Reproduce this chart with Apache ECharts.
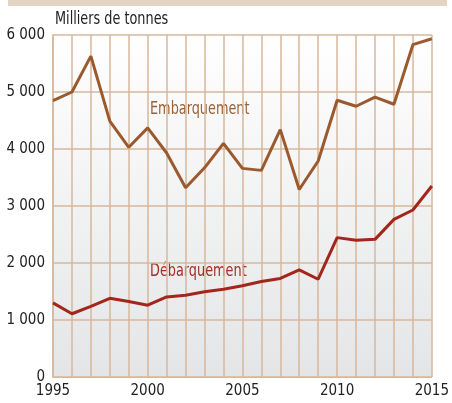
<!DOCTYPE html>
<html>
<head>
<meta charset="utf-8">
<script src="https://cdn.jsdelivr.net/npm/echarts@6/dist/echarts.min.js"></script>
<style>
  html, body { margin: 0; padding: 0; background: #fff; }
  #chart { width: 452px; height: 403px; }
</style>
</head>
<body>
<div id="chart"></div>
<script>
  // années et séries (milliers de tonnes)
  var years = [1995, 1996, 1997, 1998, 1999, 2000, 2001, 2002, 2003, 2004, 2005,
               2006, 2007, 2008, 2009, 2010, 2011, 2012, 2013, 2014, 2015];
  var embarquement = [4850, 5000, 5630, 4490, 4030, 4370, 3930, 3320, 3670, 4100, 3660,
                      3625, 4340, 3290, 3790, 4855, 4750, 4910, 4785, 5830, 5935];
  var debarquement = [1300, 1110, 1240, 1380, 1325, 1260, 1405, 1435, 1495, 1540, 1600,
                      1676, 1729, 1880, 1715, 2445, 2400, 2415, 2765, 2930, 3350];
  var yTicks = [0, 1000, 2000, 3000, 4000, 5000, 6000];

  var font = "'DejaVu Sans Condensed', 'Liberation Sans Narrow', sans-serif";

  function pairs(vals) {
    return years.map(function (y, i) { return [y, vals[i]]; });
  }

  // texte condensé horizontalement
  function label(txt, x, y, color) {
    return {
      type: 'text', x: x, y: y, scaleX: 0.84,
      style: { text: txt, font: '17px ' + font, fill: color }
    };
  }

  var chart = echarts.init(document.getElementById('chart'));
  var option = {
    animation: false,
    grid: {
      left: 53, right: 17, top: 35, bottom: 26,
      show: true,
      borderWidth: 0,
      backgroundColor: new echarts.graphic.LinearGradient(0, 0, 0, 1, [
        { offset: 0, color: '#ffffff' },
        { offset: 1, color: '#e4e5e6' }
      ])
    },
    graphic: [
      { type: 'rect', left: 8, top: 0, shape: { width: 439, height: 6 }, style: { fill: '#e4d4c4' } },
      label('Milliers de tonnes', 55, 11, '#222'),
      label('Embarquement', 150, 101, '#9b6238'),
      label('Débarquement', 150, 263, '#a42d24')
    ],
    xAxis: {
      type: 'value',
      min: 1995, max: 2015, interval: 1,
      axisLine: { show: true, lineStyle: { color: '#d6b79d', width: 1 } },
      axisTick: { show: false },
      axisLabel: {
        fontFamily: font, fontSize: 15, color: '#222', margin: 7,
        formatter: function (v) { return v % 5 === 0 ? String(v) : ''; }
      },
      splitLine: { show: true, lineStyle: { color: '#d6b79d', width: 1.5 } }
    },
    yAxis: {
      type: 'value',
      min: yTicks[0], max: yTicks[yTicks.length - 1], interval: 1000,
      axisLine: { show: true, lineStyle: { color: '#d6b79d', width: 1.5 } },
      axisTick: { show: false },
      axisLabel: {
        fontFamily: font, fontSize: 15, color: '#222', margin: 8,
        formatter: function (v) { return v === 0 ? '0' : (v / 1000) + ' 000'; }
      },
      splitLine: { show: true, lineStyle: { color: '#d6b79d', width: 1.5 } }
    },
    series: [
      {
        name: 'Embarquement', type: 'line', data: pairs(embarquement),
        symbol: 'none', lineStyle: { color: '#9b5a2e', width: 3 }
      },
      {
        name: 'Débarquement', type: 'line', data: pairs(debarquement),
        symbol: 'none', lineStyle: { color: '#a3261c', width: 3 }
      }
    ]
  };
  option && chart.setOption(option);
</script>
</body>
</html>
